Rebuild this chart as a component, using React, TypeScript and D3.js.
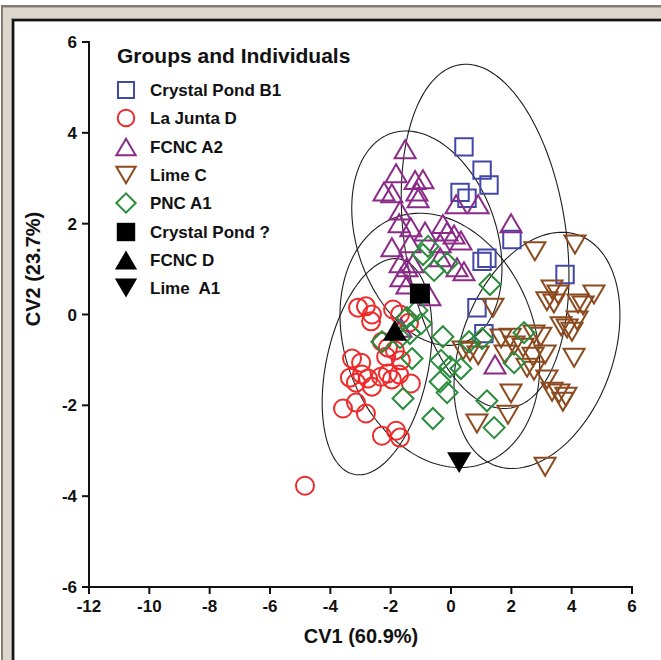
import React from 'react';
import * as d3 from 'd3';

// Axis ticks
const xTicks = [-12, -10, -8, -6, -4, -2, 0, 2, 4, 6];
const yTicks = [-6, -4, -2, 0, 2, 4, 6];

// Canonical variate scores (CV1, CV2) per group
const crystalPondB1: [number, number][] = [
  [0.43, 3.69], [1.03, 3.18], [1.26, 2.85], [0.30, 2.69], [0.53, 2.56],
  [2.02, 1.65], [1.03, 1.17], [1.19, 1.24], [3.78, 0.88], [0.86, 0.15], [1.09, -0.42],
];

const laJuntaD: [number, number][] = [
  [-3.08, 0.15], [-2.82, 0.18], [-2.62, 0.0], [-2.65, -0.15], [-1.92, 0.11],
  [-1.69, 0.0], [-1.39, -0.18], [-2.29, -0.60], [-2.09, -0.73], [-1.86, -0.79],
  [-2.15, -0.93], [-3.28, -0.97], [-2.98, -1.06], [-3.35, -1.39], [-2.95, -1.32],
  [-3.15, -1.50], [-2.75, -1.41], [-2.62, -1.59], [-2.32, -1.37], [-2.09, -1.30],
  [-1.96, -1.43], [-1.72, -1.32], [-1.33, -1.52], [-1.66, -1.01], [-3.58, -2.07],
  [-3.15, -1.94], [-2.82, -2.18], [-2.29, -2.67], [-1.82, -2.56], [-1.69, -2.71],
  [-4.84, -3.77],
];

const fcncA2: [number, number][] = [
  [-1.52, 3.64], [-1.82, 3.11], [-1.19, 2.96], [-0.93, 2.98], [-2.22, 2.71],
  [-1.96, 2.67], [-1.13, 2.71], [-1.09, 2.56], [0.17, 2.43], [0.90, 2.43],
  [1.99, 2.01], [-1.69, 2.29], [-1.72, 2.01], [-1.33, 1.92], [-0.86, 1.83],
  [-0.27, 1.99], [-0.13, 1.83], [0.10, 1.76], [0.33, 1.63], [-1.96, 1.48],
  [-1.36, 1.57], [-0.36, 1.57], [-1.69, 1.13], [-1.46, 1.04], [-1.26, 1.13],
  [-0.36, 1.26], [0.20, 1.04], [0.43, 0.95], [-1.66, 0.82], [-1.46, 0.66],
  [-0.70, 0.40], [1.46, -1.10], [-1.66, -0.29],
];

const limeC: [number, number][] = [
  [2.78, 1.39], [4.11, 1.54], [1.39, 0.15], [3.35, 0.55], [3.55, 0.44],
  [4.74, 0.44], [3.18, 0.29], [3.41, 0.24], [4.21, 0.24], [4.38, 0.20],
  [3.65, -0.26], [3.85, -0.31], [4.01, -0.38], [4.18, -0.13], [0.40, -0.79],
  [0.63, -0.82], [0.90, -0.90], [1.66, -0.53], [1.96, -0.51], [2.75, -0.44],
  [2.98, -0.49], [2.09, -0.68], [2.39, -0.73], [1.79, -0.88], [2.72, -0.93],
  [3.12, -0.88], [4.08, -0.95], [2.52, -1.17], [2.75, -1.24], [3.18, -1.43],
  [1.99, -1.74], [3.35, -1.70], [3.58, -1.74], [3.81, -1.81], [3.71, -1.92],
  [0.86, -2.40], [1.89, -2.21], [3.12, -3.35],
];

const pncA1: [number, number][] = [
  [-0.76, 1.50], [-0.93, 1.32], [-0.13, 1.13], [-0.56, 0.97], [1.29, 0.66],
  [-1.46, -0.07], [-1.13, 0.09], [-0.99, -0.20], [-2.29, -0.60], [-1.69, -0.51],
  [-1.36, -0.42], [-0.27, -0.49], [0.60, -0.60], [1.03, -0.53], [2.42, -0.40],
  [-1.29, -0.97], [-0.33, -1.01], [-0.03, -1.15], [0.33, -1.19], [2.09, -1.06],
  [-0.36, -1.48], [-0.13, -1.72], [-1.59, -1.85], [1.19, -1.90], [-0.60, -2.29],
  [1.43, -2.49],
];

const crystalPondUnknown: [number, number][] = [[-1.03, 0.46]];
const fcncD: [number, number][] = [[-1.86, -0.35]];
const limeA1: [number, number][] = [[0.27, -3.26]];

// 95% ellipses: centre, half-extent along each axis, correlation
const groupEllipses = [
  { cx: 1.13, cy: 1.72, sx: 2.78, sy: 3.79, rho: -0.23 },
  { cx: -2.45, cy: -1.15, sx: 1.82, sy: 2.38, rho: 0.33 },
  { cx: -0.8, cy: 1.68, sx: 2.49, sy: 2.36, rho: -0.28 },
  { cx: 2.85, cy: -0.79, sx: 2.75, sy: 2.6, rho: 0.3 },
  { cx: -0.37, cy: -0.57, sx: 3.31, sy: 2.8, rho: -0.2 },
];

type Shape = 'square' | 'circle' | 'triUp' | 'triDown' | 'diamond';

const series = [
  { name: 'Crystal Pond B1', data: crystalPondB1, shape: 'square' as Shape, color: '#4347a6', filled: false },
  { name: 'La Junta D', data: laJuntaD, shape: 'circle' as Shape, color: '#ee2a2a', filled: false },
  { name: 'FCNC A2', data: fcncA2, shape: 'triUp' as Shape, color: '#8b2a88', filled: false },
  { name: 'Lime C', data: limeC, shape: 'triDown' as Shape, color: '#8c4a1e', filled: false },
  { name: 'PNC A1', data: pncA1, shape: 'diamond' as Shape, color: '#2a8c3c', filled: false },
  { name: 'Crystal Pond ?', data: crystalPondUnknown, shape: 'square' as Shape, color: '#000000', filled: true },
  { name: 'FCNC D', data: fcncD, shape: 'triUp' as Shape, color: '#000000', filled: true },
  { name: 'Lime  A1', data: limeA1, shape: 'triDown' as Shape, color: '#000000', filled: true },
];

function markerPath(shape: Shape, filled: boolean, scale = 1): string {
  const k = (filled ? 1.15 : 1) * scale;
  switch (shape) {
    case 'square': {
      const s = 8.7 * k;
      return `M${-s},${-s}H${s}V${s}H${-s}Z`;
    }
    case 'circle': {
      const r = 9 * k;
      return `M${r},0A${r},${r} 0 1,1 ${-r},0A${r},${r} 0 1,1 ${r},0Z`;
    }
    case 'triUp': {
      const w = 10.5 * k, h = 9 * k;
      return `M0,${-h}L${w},${h}L${-w},${h}Z`;
    }
    case 'triDown': {
      const w = 10.5 * k, h = 9 * k;
      return `M0,${h}L${w},${-h}L${-w},${-h}Z`;
    }
    case 'diamond': {
      const d = 10.5 * k;
      return `M0,${-d}L${d},0L0,${d}L${-d},0Z`;
    }
  }
}

const W = 661;
const H = 660;
const font = "'Liberation Sans', Arial, sans-serif";

export default function App() {
  const x = d3.scaleLinear().domain([-12, 6]).range([89, 632]);
  const y = d3.scaleLinear().domain([-6, 6]).range([587, 42]);

  const line = d3.line<[number, number]>()
    .x(d => x(d[0]))
    .y(d => y(d[1]))
    .curve(d3.curveLinearClosed);

  const ellipsePath = (e: typeof groupEllipses[number]) => {
    const n = 180;
    const q = Math.sqrt(1 - e.rho * e.rho);
    const pts: [number, number][] = [];
    for (let i = 0; i < n; i++) {
      const t = (i / n) * Math.PI * 2;
      pts.push([e.cx + e.sx * Math.cos(t), e.cy + e.sy * (e.rho * Math.cos(t) + q * Math.sin(t))]);
    }
    return line(pts) || '';
  };

  const legendRowY = [90, 118, 147, 175, 203, 232, 260, 288];

  return (
    <svg width={W} height={H} style={{ position: 'absolute', left: 0, top: 0, background: '#ffffff' }}>
      {/* window frame */}
      <rect x={1} y={5} width={W} height={H} fill="#877b70" />
      <rect x={3} y={7.5} width={W} height={H} fill="#ddd6cd" />
      <rect x={11.5} y={18.5} width={W} height={H} fill="none" stroke="#9a948e" strokeWidth={1} />
      <rect x={13.2} y={20.2} width={W} height={H} fill="#ffffff" stroke="#151515" strokeWidth={2.4} />

      {/* ellipses */}
      <g fill="none" stroke="#1e1e1e" strokeWidth={1.1}>
        {groupEllipses.map((e, i) => <path key={i} d={ellipsePath(e)} />)}
      </g>

      {/* points */}
      {series.map(s => (
        <g key={s.name}>
          {s.data.map((d, i) => (
            <path
              key={i}
              d={markerPath(s.shape, s.filled)}
              transform={`translate(${x(d[0])},${y(d[1])})`}
              fill={s.filled ? s.color : 'none'}
              stroke={s.color}
              strokeWidth={s.filled ? 0 : 2}
            />
          ))}
        </g>
      ))}

      {/* axes */}
      <g stroke="#111" strokeWidth={2} fill="none">
        <line x1={x(-12)} x2={x(-12)} y1={y(6) - 1} y2={y(-6) + 1} />
        <line x1={x(-12) - 1} x2={x(6) + 1} y1={y(-6)} y2={y(-6)} />
        {yTicks.map(t => <line key={'yt' + t} x1={x(-12) - 7} x2={x(-12)} y1={y(t)} y2={y(t)} />)}
        {xTicks.map(t => <line key={'xt' + t} x1={x(t)} x2={x(t)} y1={y(-6)} y2={y(-6) + 7} />)}
      </g>
      <g fontFamily={font} fontWeight="bold" fontSize={17} fill="#111">
        {yTicks.map(t => (
          <text key={'yl' + t} x={x(-12) - 12} y={y(t) + 6} textAnchor="end">{t}</text>
        ))}
        {xTicks.map(t => (
          <text key={'xl' + t} x={x(t)} y={y(-6) + 25} textAnchor="middle">{t}</text>
        ))}
      </g>
      <text x={361} y={643} textAnchor="middle" fontFamily={font} fontWeight="bold" fontSize={20} fill="#111">CV1 (60.9%)</text>
      <text transform="translate(40,269) rotate(-90)" textAnchor="middle" fontFamily={font} fontWeight="bold" fontSize={20} fill="#111">CV2 (23.7%)</text>

      {/* legend */}
      <text x={117} y={62.5} fontFamily={font} fontWeight="bold" fontSize={21} fill="#111">Groups and Individuals</text>
      {series.map((s, i) => (
        <g key={'lg' + s.name} transform={`translate(0,${legendRowY[i]})`}>
          <path
            d={markerPath(s.shape, s.filled, 0.92)}
            transform="translate(126,0)"
            fill={s.filled ? s.color : 'none'}
            stroke={s.color}
            strokeWidth={s.filled ? 0 : 2}
          />
          <text x={150} y={6} fontFamily={font} fontWeight="bold" fontSize={17} fill="#111" style={{ whiteSpace: 'pre' }}>{s.name}</text>
        </g>
      ))}
    </svg>
  );
}
